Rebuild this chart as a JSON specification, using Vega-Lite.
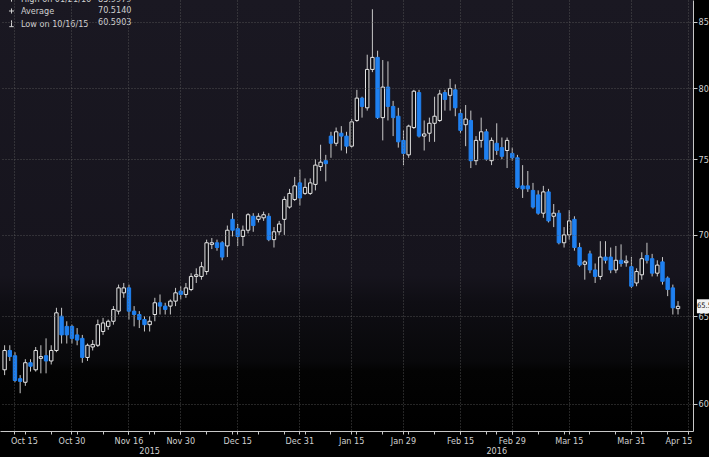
{
  "$schema": "https://vega.github.io/schema/vega-lite/v6.json",
  "width": 693,
  "height": 431,
  "autosize": {"type": "none"},
  "padding": {"left": 0, "top": 0, "right": 16, "bottom": 26},
  "background": "#000000",
  "datasets": {
    "ohlc": [
      {"d":"2015-10-13","O":61.9,"H":63.3,"L":61.6,"C":63.0},
      {"d":"2015-10-14","O":63.0,"H":63.3,"L":62.4,"C":62.65},
      {"d":"2015-10-15","O":62.7,"H":62.9,"L":61.2,"C":61.3},
      {"d":"2015-10-16","O":61.4,"H":61.6,"L":60.59,"C":61.25},
      {"d":"2015-10-19","O":61.2,"H":62.5,"L":61.0,"C":62.3},
      {"d":"2015-10-20","O":62.3,"H":62.5,"L":61.8,"C":62.1},
      {"d":"2015-10-21","O":61.9,"H":63.2,"L":61.8,"C":63.0},
      {"d":"2015-10-22","O":62.55,"H":63.3,"L":61.7,"C":62.65},
      {"d":"2015-10-23","O":62.7,"H":63.7,"L":61.7,"C":62.4},
      {"d":"2015-10-26","O":62.4,"H":63.3,"L":62.2,"C":63.0},
      {"d":"2015-10-27","O":63.0,"H":65.5,"L":62.9,"C":65.2},
      {"d":"2015-10-28","O":65.0,"H":65.5,"L":63.4,"C":63.9},
      {"d":"2015-10-29","O":64.4,"H":64.7,"L":63.4,"C":63.9},
      {"d":"2015-10-30","O":64.4,"H":64.5,"L":63.4,"C":63.7},
      {"d":"2015-11-02","O":63.9,"H":64.3,"L":63.3,"C":63.6},
      {"d":"2015-11-03","O":63.7,"H":63.9,"L":62.3,"C":62.6},
      {"d":"2015-11-04","O":62.6,"H":63.4,"L":62.4,"C":63.3},
      {"d":"2015-11-05","O":63.2,"H":63.6,"L":63.0,"C":63.35},
      {"d":"2015-11-06","O":63.3,"H":64.8,"L":63.2,"C":64.5},
      {"d":"2015-11-09","O":64.1,"H":64.9,"L":63.9,"C":64.6},
      {"d":"2015-11-10","O":64.4,"H":64.8,"L":64.2,"C":64.7},
      {"d":"2015-11-11","O":64.7,"H":65.6,"L":64.5,"C":65.4},
      {"d":"2015-11-12","O":65.3,"H":66.9,"L":65.1,"C":66.7},
      {"d":"2015-11-13","O":66.4,"H":67.0,"L":66.1,"C":66.7},
      {"d":"2015-11-16","O":66.7,"H":66.9,"L":64.8,"C":65.3},
      {"d":"2015-11-17","O":65.3,"H":65.6,"L":64.4,"C":65.1},
      {"d":"2015-11-18","O":65.1,"H":65.3,"L":64.3,"C":64.8},
      {"d":"2015-11-19","O":64.8,"H":65.0,"L":64.1,"C":64.5},
      {"d":"2015-11-20","O":64.5,"H":65.0,"L":64.1,"C":64.7},
      {"d":"2015-11-23","O":65.1,"H":66.1,"L":64.7,"C":65.8},
      {"d":"2015-11-24","O":65.8,"H":66.3,"L":65.1,"C":65.6},
      {"d":"2015-11-25","O":65.6,"H":65.8,"L":65.1,"C":65.4},
      {"d":"2015-11-26","O":65.6,"H":66.0,"L":65.1,"C":65.9},
      {"d":"2015-11-27","O":65.9,"H":66.7,"L":65.6,"C":66.4},
      {"d":"2015-11-30","O":66.5,"H":66.8,"L":66.0,"C":66.3},
      {"d":"2015-12-01","O":66.3,"H":67.0,"L":66.1,"C":66.7},
      {"d":"2015-12-02","O":66.6,"H":67.6,"L":66.5,"C":67.4},
      {"d":"2015-12-03","O":67.4,"H":67.9,"L":67.0,"C":67.5},
      {"d":"2015-12-04","O":67.4,"H":68.3,"L":67.2,"C":68.0},
      {"d":"2015-12-07","O":67.7,"H":69.7,"L":67.5,"C":69.5},
      {"d":"2015-12-08","O":69.4,"H":69.8,"L":69.1,"C":69.5},
      {"d":"2015-12-09","O":69.5,"H":69.7,"L":69.0,"C":69.2},
      {"d":"2015-12-10","O":69.5,"H":69.6,"L":68.4,"C":68.6},
      {"d":"2015-12-11","O":69.3,"H":70.6,"L":68.6,"C":70.3},
      {"d":"2015-12-14","O":71.0,"H":71.4,"L":69.9,"C":70.3},
      {"d":"2015-12-15","O":70.4,"H":70.7,"L":69.3,"C":69.9},
      {"d":"2015-12-16","O":69.9,"H":70.6,"L":69.3,"C":70.3},
      {"d":"2015-12-17","O":70.3,"H":71.4,"L":70.1,"C":71.3},
      {"d":"2015-12-18","O":71.2,"H":71.4,"L":70.2,"C":70.6},
      {"d":"2015-12-21","O":71.0,"H":71.4,"L":70.8,"C":71.2},
      {"d":"2015-12-22","O":71.1,"H":71.5,"L":70.9,"C":71.3},
      {"d":"2015-12-23","O":71.2,"H":71.4,"L":69.6,"C":69.7},
      {"d":"2015-12-24","O":69.7,"H":70.5,"L":69.2,"C":70.2},
      {"d":"2015-12-25","O":70.2,"H":70.9,"L":70.0,"C":70.7},
      {"d":"2015-12-28","O":71.0,"H":72.5,"L":70.0,"C":72.3},
      {"d":"2015-12-29","O":71.8,"H":73.0,"L":71.7,"C":72.7},
      {"d":"2015-12-30","O":72.3,"H":73.8,"L":72.2,"C":73.2},
      {"d":"2015-12-31","O":73.4,"H":74.3,"L":71.9,"C":72.4},
      {"d":"2016-01-04","O":72.7,"H":73.7,"L":72.6,"C":73.1},
      {"d":"2016-01-05","O":72.7,"H":73.7,"L":72.6,"C":73.4},
      {"d":"2016-01-06","O":73.3,"H":75.0,"L":72.9,"C":74.6},
      {"d":"2016-01-07","O":74.5,"H":76.0,"L":74.2,"C":74.8},
      {"d":"2016-01-08","O":74.9,"H":75.3,"L":73.5,"C":74.7},
      {"d":"2016-01-11","O":76.6,"H":76.9,"L":75.1,"C":76.1},
      {"d":"2016-01-12","O":76.1,"H":77.2,"L":75.9,"C":76.9},
      {"d":"2016-01-13","O":76.8,"H":77.3,"L":75.6,"C":76.6},
      {"d":"2016-01-14","O":76.6,"H":76.9,"L":75.4,"C":75.9},
      {"d":"2016-01-15","O":75.9,"H":77.8,"L":75.8,"C":77.6},
      {"d":"2016-01-18","O":77.7,"H":79.9,"L":77.6,"C":79.3},
      {"d":"2016-01-19","O":79.3,"H":79.4,"L":77.9,"C":78.7},
      {"d":"2016-01-20","O":78.6,"H":82.5,"L":78.4,"C":81.4},
      {"d":"2016-01-21","O":81.4,"H":85.99,"L":81.2,"C":82.3},
      {"d":"2016-01-22","O":82.3,"H":82.8,"L":77.8,"C":77.9},
      {"d":"2016-01-25","O":77.9,"H":82.1,"L":76.3,"C":80.1},
      {"d":"2016-01-26","O":80.1,"H":82.0,"L":77.7,"C":78.7},
      {"d":"2016-01-27","O":78.7,"H":79.1,"L":76.6,"C":77.9},
      {"d":"2016-01-28","O":78.0,"H":78.6,"L":75.8,"C":76.2},
      {"d":"2016-01-29","O":76.3,"H":77.0,"L":74.6,"C":75.4},
      {"d":"2016-02-01","O":75.3,"H":77.4,"L":75.1,"C":77.3},
      {"d":"2016-02-02","O":77.2,"H":79.9,"L":77.1,"C":79.8},
      {"d":"2016-02-03","O":79.7,"H":79.9,"L":76.5,"C":76.6},
      {"d":"2016-02-04","O":76.6,"H":77.7,"L":75.6,"C":76.75},
      {"d":"2016-02-05","O":76.8,"H":77.9,"L":76.2,"C":77.5},
      {"d":"2016-02-08","O":77.5,"H":79.4,"L":76.2,"C":78.0},
      {"d":"2016-02-09","O":77.7,"H":79.9,"L":77.6,"C":79.6},
      {"d":"2016-02-10","O":79.7,"H":79.9,"L":78.4,"C":79.2},
      {"d":"2016-02-11","O":79.5,"H":80.7,"L":78.4,"C":80.0},
      {"d":"2016-02-12","O":79.9,"H":80.3,"L":78.0,"C":78.6},
      {"d":"2016-02-15","O":78.2,"H":78.5,"L":76.8,"C":77.0},
      {"d":"2016-02-16","O":77.4,"H":78.8,"L":75.9,"C":77.8},
      {"d":"2016-02-17","O":77.7,"H":78.4,"L":74.4,"C":74.9},
      {"d":"2016-02-18","O":74.9,"H":76.6,"L":74.6,"C":76.3},
      {"d":"2016-02-19","O":76.3,"H":77.9,"L":75.8,"C":76.9},
      {"d":"2016-02-22","O":76.9,"H":77.1,"L":74.9,"C":75.0},
      {"d":"2016-02-23","O":74.9,"H":76.5,"L":74.6,"C":76.3},
      {"d":"2016-02-24","O":76.1,"H":77.5,"L":75.3,"C":75.6},
      {"d":"2016-02-25","O":75.8,"H":76.5,"L":75.0,"C":75.2},
      {"d":"2016-02-26","O":75.6,"H":76.5,"L":74.4,"C":76.3},
      {"d":"2016-02-29","O":75.4,"H":75.8,"L":74.9,"C":75.1},
      {"d":"2016-03-01","O":75.1,"H":75.3,"L":73.0,"C":73.1},
      {"d":"2016-03-02","O":73.2,"H":74.6,"L":72.4,"C":73.0},
      {"d":"2016-03-03","O":73.2,"H":74.2,"L":72.8,"C":73.0},
      {"d":"2016-03-04","O":72.9,"H":73.4,"L":71.7,"C":71.8},
      {"d":"2016-03-07","O":72.6,"H":72.9,"L":71.3,"C":71.4},
      {"d":"2016-03-08","O":71.4,"H":73.2,"L":71.1,"C":72.8},
      {"d":"2016-03-09","O":72.8,"H":73.0,"L":70.8,"C":70.9},
      {"d":"2016-03-10","O":71.2,"H":72.0,"L":70.5,"C":71.4},
      {"d":"2016-03-11","O":71.4,"H":71.6,"L":69.4,"C":69.5},
      {"d":"2016-03-14","O":69.5,"H":70.5,"L":69.2,"C":70.0},
      {"d":"2016-03-15","O":70.0,"H":71.6,"L":69.7,"C":70.9},
      {"d":"2016-03-16","O":71.0,"H":71.2,"L":69.0,"C":69.2},
      {"d":"2016-03-17","O":69.2,"H":69.5,"L":68.0,"C":68.1},
      {"d":"2016-03-18","O":68.15,"H":68.4,"L":67.2,"C":68.3},
      {"d":"2016-03-21","O":68.8,"H":69.0,"L":67.6,"C":67.8},
      {"d":"2016-03-22","O":67.8,"H":68.2,"L":67.0,"C":67.4},
      {"d":"2016-03-23","O":67.4,"H":69.6,"L":67.2,"C":68.6},
      {"d":"2016-03-24","O":68.6,"H":69.6,"L":68.2,"C":68.4},
      {"d":"2016-03-25","O":68.6,"H":69.2,"L":67.6,"C":67.8},
      {"d":"2016-03-28","O":67.8,"H":69.3,"L":67.6,"C":68.4},
      {"d":"2016-03-29","O":68.4,"H":69.4,"L":68.0,"C":68.2},
      {"d":"2016-03-30","O":68.25,"H":68.7,"L":68.0,"C":68.35},
      {"d":"2016-03-31","O":68.0,"H":68.6,"L":66.7,"C":66.8},
      {"d":"2016-04-01","O":67.0,"H":67.9,"L":66.8,"C":67.7},
      {"d":"2016-04-04","O":67.5,"H":68.9,"L":67.2,"C":68.5},
      {"d":"2016-04-05","O":68.7,"H":69.5,"L":68.2,"C":68.4},
      {"d":"2016-04-06","O":68.5,"H":68.8,"L":67.4,"C":67.6},
      {"d":"2016-04-07","O":67.6,"H":68.4,"L":67.4,"C":68.1},
      {"d":"2016-04-08","O":68.3,"H":68.6,"L":66.9,"C":67.1},
      {"d":"2016-04-11","O":67.3,"H":67.4,"L":66.2,"C":66.6},
      {"d":"2016-04-12","O":66.7,"H":66.9,"L":65.1,"C":65.5},
      {"d":"2016-04-13","O":65.45,"H":65.9,"L":65.1,"C":65.59}
    ],
    "legend": [
      {"name": "High on 01/21/16", "value": "85.9979"},
      {"name": "Average", "value": "70.5140"},
      {"name": "Low on 10/16/15", "value": "60.5903"}
    ],
    "bg": [{}]
  },
  "data": {"name": "ohlc"},
  "layer": [
    {
      "data": {"name": "bg"},
      "mark": {"type": "rect", "color": {"gradient": "linear", "x1": 0, "y1": 0, "x2": 0, "y2": 1, "stops": [{"offset": 0, "color": "#1a1822"}, {"offset": 0.64, "color": "#16141d"}, {"offset": 0.7, "color": "#0f0e14"}, {"offset": 0.84, "color": "#08080a"}, {"offset": 0.86, "color": "#030303"}, {"offset": 1, "color": "#000000"}]}},
      "encoding": {}
    },
    {
      "mark": {"type": "rule", "color": "#c8c8c8", "strokeWidth": 1},
      "encoding": {
        "x": {"field": "d", "type": "ordinal",
          "scale": {"type": "band", "paddingInner": 0, "paddingOuter": 0.39, "domain": ["2015-10-13","2015-10-14","2015-10-15","2015-10-16","2015-10-19","2015-10-20","2015-10-21","2015-10-22","2015-10-23","2015-10-26","2015-10-27","2015-10-28","2015-10-29","2015-10-30","2015-11-02","2015-11-03","2015-11-04","2015-11-05","2015-11-06","2015-11-09","2015-11-10","2015-11-11","2015-11-12","2015-11-13","2015-11-16","2015-11-17","2015-11-18","2015-11-19","2015-11-20","2015-11-23","2015-11-24","2015-11-25","2015-11-26","2015-11-27","2015-11-30","2015-12-01","2015-12-02","2015-12-03","2015-12-04","2015-12-07","2015-12-08","2015-12-09","2015-12-10","2015-12-11","2015-12-14","2015-12-15","2015-12-16","2015-12-17","2015-12-18","2015-12-21","2015-12-22","2015-12-23","2015-12-24","2015-12-25","2015-12-28","2015-12-29","2015-12-30","2015-12-31","2016-01-04","2016-01-05","2016-01-06","2016-01-07","2016-01-08","2016-01-11","2016-01-12","2016-01-13","2016-01-14","2016-01-15","2016-01-18","2016-01-19","2016-01-20","2016-01-21","2016-01-22","2016-01-25","2016-01-26","2016-01-27","2016-01-28","2016-01-29","2016-02-01","2016-02-02","2016-02-03","2016-02-04","2016-02-05","2016-02-08","2016-02-09","2016-02-10","2016-02-11","2016-02-12","2016-02-15","2016-02-16","2016-02-17","2016-02-18","2016-02-19","2016-02-22","2016-02-23","2016-02-24","2016-02-25","2016-02-26","2016-02-29","2016-03-01","2016-03-02","2016-03-03","2016-03-04","2016-03-07","2016-03-08","2016-03-09","2016-03-10","2016-03-11","2016-03-14","2016-03-15","2016-03-16","2016-03-17","2016-03-18","2016-03-21","2016-03-22","2016-03-23","2016-03-24","2016-03-25","2016-03-28","2016-03-29","2016-03-30","2016-03-31","2016-04-01","2016-04-04","2016-04-05","2016-04-06","2016-04-07","2016-04-08","2016-04-11","2016-04-12","2016-04-13","2016-04-14","2016-04-15"]},
          "axis": {"orient": "bottom", "zindex": 1, "title": null, "bandPosition": 0.5, "domain": false, "grid": false, "ticks": true, "tickSize": 3, "labelPadding": 12, "labelAngle": 0, "labelOverlap": false,
            "values": ["2015-10-19","2015-10-26","2015-11-02","2015-11-09","2015-11-16","2015-11-20","2015-11-23","2015-11-30","2015-12-07","2015-12-14","2015-12-21","2015-12-28","2016-01-04","2016-01-11","2016-01-18","2016-01-25","2016-02-01","2016-02-08","2016-02-15","2016-02-22","2016-02-24","2016-02-29","2016-03-07","2016-03-14","2016-03-21","2016-03-28","2016-04-04","2016-04-11"],
            "labelExpr": "datum.value == '2015-11-20' ? '2015' : datum.value == '2016-02-24' ? '2016' : ''"}},
        "y": {"field": "L", "type": "quantitative", "scale": {"type": "log", "domain": [58.54, 86.72], "nice": false, "zero": false},
          "axis": {"orient": "right", "zindex": 1, "title": null, "values": [60, 65, 70, 75, 80, 85], "grid": true, "tickSize": 4, "labelPadding": 1, "labelBaseline": "middle"}},
        "y2": {"field": "H"}
      }
    },
    {
      "mark": {"type": "bar", "width": 3.4, "strokeWidth": 1},
      "encoding": {
        "x": {"field": "d", "type": "ordinal",
          "scale": {"type": "band", "paddingInner": 0, "paddingOuter": 0.39, "domain": ["2015-10-13","2015-10-14","2015-10-15","2015-10-16","2015-10-19","2015-10-20","2015-10-21","2015-10-22","2015-10-23","2015-10-26","2015-10-27","2015-10-28","2015-10-29","2015-10-30","2015-11-02","2015-11-03","2015-11-04","2015-11-05","2015-11-06","2015-11-09","2015-11-10","2015-11-11","2015-11-12","2015-11-13","2015-11-16","2015-11-17","2015-11-18","2015-11-19","2015-11-20","2015-11-23","2015-11-24","2015-11-25","2015-11-26","2015-11-27","2015-11-30","2015-12-01","2015-12-02","2015-12-03","2015-12-04","2015-12-07","2015-12-08","2015-12-09","2015-12-10","2015-12-11","2015-12-14","2015-12-15","2015-12-16","2015-12-17","2015-12-18","2015-12-21","2015-12-22","2015-12-23","2015-12-24","2015-12-25","2015-12-28","2015-12-29","2015-12-30","2015-12-31","2016-01-04","2016-01-05","2016-01-06","2016-01-07","2016-01-08","2016-01-11","2016-01-12","2016-01-13","2016-01-14","2016-01-15","2016-01-18","2016-01-19","2016-01-20","2016-01-21","2016-01-22","2016-01-25","2016-01-26","2016-01-27","2016-01-28","2016-01-29","2016-02-01","2016-02-02","2016-02-03","2016-02-04","2016-02-05","2016-02-08","2016-02-09","2016-02-10","2016-02-11","2016-02-12","2016-02-15","2016-02-16","2016-02-17","2016-02-18","2016-02-19","2016-02-22","2016-02-23","2016-02-24","2016-02-25","2016-02-26","2016-02-29","2016-03-01","2016-03-02","2016-03-03","2016-03-04","2016-03-07","2016-03-08","2016-03-09","2016-03-10","2016-03-11","2016-03-14","2016-03-15","2016-03-16","2016-03-17","2016-03-18","2016-03-21","2016-03-22","2016-03-23","2016-03-24","2016-03-25","2016-03-28","2016-03-29","2016-03-30","2016-03-31","2016-04-01","2016-04-04","2016-04-05","2016-04-06","2016-04-07","2016-04-08","2016-04-11","2016-04-12","2016-04-13","2016-04-14","2016-04-15"]},
          "axis": {"orient": "bottom", "zindex": 1, "title": null, "bandPosition": 0.5, "grid": true, "ticks": true, "tickSize": 3, "labelPadding": 2, "labelAngle": 0, "labelOverlap": false, "labelFlush": 20, "labelFlushOffset": 4,
            "values": ["2015-10-15","2015-10-30","2015-11-16","2015-11-30","2015-12-15","2015-12-31","2016-01-15","2016-01-29","2016-02-15","2016-02-29","2016-03-15","2016-03-31","2016-04-15"],
            "labelExpr": "utcFormat(toDate(datum.value), '%b %d')"}},
        "y": {"field": "O", "type": "quantitative", "scale": {"type": "log", "domain": [58.54, 86.72], "nice": false, "zero": false},
          "axis": {"orient": "right", "zindex": 1, "title": null, "values": [60, 65, 70, 75, 80, 85], "grid": true, "tickSize": 4, "labelPadding": 1, "labelBaseline": "middle"}},
        "y2": {"field": "C"},
        "fill": {"condition": {"test": "datum.C < datum.O", "value": "#1f80f0"}, "value": "#0b0b10"},
        "stroke": {"condition": {"test": "datum.C < datum.O", "value": "#1f80f0"}, "value": "#e6e6e6"}
      }
    },
    {
      "data": {"name": "legend"},
      "mark": {"type": "point", "opacity": 0},
      "encoding": {
        "shape": {"field": "name", "type": "nominal",
          "scale": {"domain": ["High on 01/21/16", "Average", "Low on 10/16/15"], "range": ["M0,-1L0,1M-0.7,-1L0.7,-1", "M-0.8,0L0.8,0M0,-0.8L0,0.8", "M0,-1L0,1M-0.7,1L0.7,1"]},
          "legend": {"orient": "none", "legendX": 7, "legendY": -6, "title": null, "padding": 0, "rowPadding": 1.5, "labelColor": "#d0d0d0", "labelFontSize": 9, "labelOffset": 5, "symbolSize": 40, "symbolStrokeColor": "#d0d0d0", "symbolStrokeWidth": 1, "symbolFillColor": "transparent", "symbolOpacity": 1}},
        "fill": {"field": "value", "type": "nominal",
          "scale": {"domain": ["85.9979", "70.5140", "60.5903"], "range": ["#000000", "#000000", "#000000"]},
          "legend": {"orient": "none", "legendX": 89, "legendY": -6, "title": null, "padding": 0, "rowPadding": 1.5, "labelColor": "#d0d0d0", "labelFontSize": 9, "labelOffset": 0, "symbolSize": 0, "symbolStrokeWidth": 0, "symbolOpacity": 0}}
      }
    },
    {
      "transform": [{"filter": "datum.d == '2016-04-13'"}],
      "mark": {"type": "point", "shape": "M2.7,-1L6,-1L6,1L2.7,1Z", "size": 196, "filled": true, "color": "#f2f2f2", "opacity": 1},
      "encoding": {
        "x": {"field": "d", "type": "ordinal",
          "scale": {"type": "band", "paddingInner": 0, "paddingOuter": 0.39, "domain": ["2015-10-13","2015-10-14","2015-10-15","2015-10-16","2015-10-19","2015-10-20","2015-10-21","2015-10-22","2015-10-23","2015-10-26","2015-10-27","2015-10-28","2015-10-29","2015-10-30","2015-11-02","2015-11-03","2015-11-04","2015-11-05","2015-11-06","2015-11-09","2015-11-10","2015-11-11","2015-11-12","2015-11-13","2015-11-16","2015-11-17","2015-11-18","2015-11-19","2015-11-20","2015-11-23","2015-11-24","2015-11-25","2015-11-26","2015-11-27","2015-11-30","2015-12-01","2015-12-02","2015-12-03","2015-12-04","2015-12-07","2015-12-08","2015-12-09","2015-12-10","2015-12-11","2015-12-14","2015-12-15","2015-12-16","2015-12-17","2015-12-18","2015-12-21","2015-12-22","2015-12-23","2015-12-24","2015-12-25","2015-12-28","2015-12-29","2015-12-30","2015-12-31","2016-01-04","2016-01-05","2016-01-06","2016-01-07","2016-01-08","2016-01-11","2016-01-12","2016-01-13","2016-01-14","2016-01-15","2016-01-18","2016-01-19","2016-01-20","2016-01-21","2016-01-22","2016-01-25","2016-01-26","2016-01-27","2016-01-28","2016-01-29","2016-02-01","2016-02-02","2016-02-03","2016-02-04","2016-02-05","2016-02-08","2016-02-09","2016-02-10","2016-02-11","2016-02-12","2016-02-15","2016-02-16","2016-02-17","2016-02-18","2016-02-19","2016-02-22","2016-02-23","2016-02-24","2016-02-25","2016-02-26","2016-02-29","2016-03-01","2016-03-02","2016-03-03","2016-03-04","2016-03-07","2016-03-08","2016-03-09","2016-03-10","2016-03-11","2016-03-14","2016-03-15","2016-03-16","2016-03-17","2016-03-18","2016-03-21","2016-03-22","2016-03-23","2016-03-24","2016-03-25","2016-03-28","2016-03-29","2016-03-30","2016-03-31","2016-04-01","2016-04-04","2016-04-05","2016-04-06","2016-04-07","2016-04-08","2016-04-11","2016-04-12","2016-04-13","2016-04-14","2016-04-15"]},
          "axis": null},
        "y": {"field": "C", "type": "quantitative", "scale": {"type": "log", "domain": [58.54, 86.72], "nice": false, "zero": false},
          "axis": {"orient": "right", "zindex": 1, "title": null, "values": [60, 65, 70, 75, 80, 85], "grid": true, "tickSize": 4, "labelPadding": 1, "labelBaseline": "middle"}}
      }
    },
    {
      "transform": [{"filter": "datum.d == '2016-04-13'"}],
      "mark": {"type": "text", "align": "left", "baseline": "middle", "dx": 19, "fontSize": 7.5, "color": "#111111"},
      "encoding": {
        "x": {"field": "d", "type": "ordinal",
          "scale": {"type": "band", "paddingInner": 0, "paddingOuter": 0.39, "domain": ["2015-10-13","2015-10-14","2015-10-15","2015-10-16","2015-10-19","2015-10-20","2015-10-21","2015-10-22","2015-10-23","2015-10-26","2015-10-27","2015-10-28","2015-10-29","2015-10-30","2015-11-02","2015-11-03","2015-11-04","2015-11-05","2015-11-06","2015-11-09","2015-11-10","2015-11-11","2015-11-12","2015-11-13","2015-11-16","2015-11-17","2015-11-18","2015-11-19","2015-11-20","2015-11-23","2015-11-24","2015-11-25","2015-11-26","2015-11-27","2015-11-30","2015-12-01","2015-12-02","2015-12-03","2015-12-04","2015-12-07","2015-12-08","2015-12-09","2015-12-10","2015-12-11","2015-12-14","2015-12-15","2015-12-16","2015-12-17","2015-12-18","2015-12-21","2015-12-22","2015-12-23","2015-12-24","2015-12-25","2015-12-28","2015-12-29","2015-12-30","2015-12-31","2016-01-04","2016-01-05","2016-01-06","2016-01-07","2016-01-08","2016-01-11","2016-01-12","2016-01-13","2016-01-14","2016-01-15","2016-01-18","2016-01-19","2016-01-20","2016-01-21","2016-01-22","2016-01-25","2016-01-26","2016-01-27","2016-01-28","2016-01-29","2016-02-01","2016-02-02","2016-02-03","2016-02-04","2016-02-05","2016-02-08","2016-02-09","2016-02-10","2016-02-11","2016-02-12","2016-02-15","2016-02-16","2016-02-17","2016-02-18","2016-02-19","2016-02-22","2016-02-23","2016-02-24","2016-02-25","2016-02-26","2016-02-29","2016-03-01","2016-03-02","2016-03-03","2016-03-04","2016-03-07","2016-03-08","2016-03-09","2016-03-10","2016-03-11","2016-03-14","2016-03-15","2016-03-16","2016-03-17","2016-03-18","2016-03-21","2016-03-22","2016-03-23","2016-03-24","2016-03-25","2016-03-28","2016-03-29","2016-03-30","2016-03-31","2016-04-01","2016-04-04","2016-04-05","2016-04-06","2016-04-07","2016-04-08","2016-04-11","2016-04-12","2016-04-13","2016-04-14","2016-04-15"]},
          "axis": null},
        "y": {"field": "C", "type": "quantitative", "scale": {"type": "log", "domain": [58.54, 86.72], "nice": false, "zero": false},
          "axis": {"orient": "right", "zindex": 1, "title": null, "values": [60, 65, 70, 75, 80, 85], "grid": true, "tickSize": 4, "labelPadding": 1, "labelBaseline": "middle"}},
        "text": {"field": "C", "type": "quantitative", "format": ".4f"}
      }
    }
  ],
  "resolve": {"axis": {"x": "independent"}},
  "config": {
    "font": "Liberation Sans Narrow, DejaVu Sans Condensed, Arial Narrow, sans-serif",
    "view": {"stroke": null},
    "axis": {"labelFont": "Liberation Sans Narrow, DejaVu Sans Condensed, Arial Narrow, sans-serif", "labelColor": "#d0d0d0", "labelFontSize": 9, "domainColor": "#c8c8c8", "tickColor": "#c8c8c8", "gridColor": "#5e5e5e", "gridOpacity": 0.8, "gridDash": [1, 2], "gridWidth": 1},
    "legend": {"labelFont": "Liberation Sans Narrow, DejaVu Sans Condensed, Arial Narrow, sans-serif"}
  }
}
